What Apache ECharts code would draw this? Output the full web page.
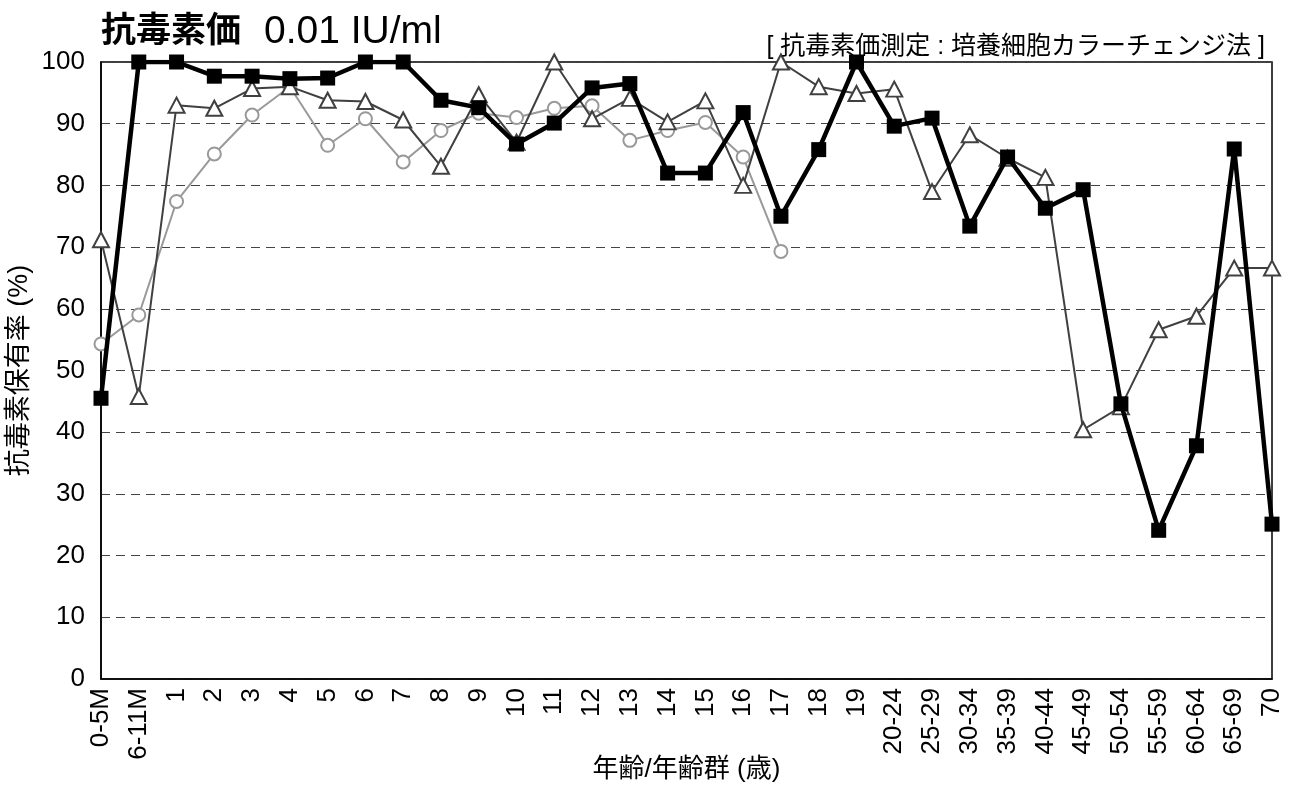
<!DOCTYPE html>
<html><head><meta charset="utf-8">
<script src="https://cdn.jsdelivr.net/npm/echarts@6/dist/echarts.min.js"></script>
<style>html,body{margin:0;padding:0;background:#fff}#c{width:1290px;height:785px}</style>
</head><body><div id="c"></div>
<script>
const categories = ['0-5M','6-11M','1','2','3','4','5','6','7','8','9','10','11','12','13','14','15','16','17','18','19','20-24','25-29','30-34','35-39','40-44','45-49','50-54','55-59','60-64','65-69','70'];
const squareSeries = [45.5,100,100,97.7,97.7,97.3,97.4,100,100,93.8,92.6,86.7,90.1,95.8,96.5,82.0,82.0,91.8,75.0,85.8,100,89.6,90.9,73.4,84.6,76.3,79.3,44.6,24.1,37.8,85.9,25.1];
const triangleSeries = [71.2,45.8,93.0,92.5,95.7,96.0,93.8,93.6,90.6,83.1,94.7,87.0,100,90.8,94.1,90.3,93.7,80.0,100,96.0,94.9,95.6,79.0,88.2,84.4,81.3,40.4,44.1,56.6,58.8,66.6,66.6];
const circleSeries = [54.3,59.0,77.4,85.1,91.4,96.0,86.5,90.8,83.8,88.9,91.7,91.0,92.5,92.9,87.3,88.9,90.2,84.6,69.3,null,null,null,null,null,null,null,null,null,null,null,null,null];
const yTicks = {min:0, max:100, interval:10};

const FONT = '"Liberation Sans", Arial, "Noto Sans CJK JP", sans-serif';
const chart = echarts.init(document.getElementById('c'));
chart.setOption({
  animation:false,
  backgroundColor:'#fff',
  textStyle:{fontFamily:FONT},
  title:[
    {text:'抗毒素価', left:96, top:10,
     textStyle:{fontSize:35,fontWeight:'bold',color:'#000',fontFamily:FONT}},
    {text:'0.01 IU/ml', left:259, top:8,
     textStyle:{fontSize:39,fontWeight:'normal',color:'#000',fontFamily:FONT}},
    {text:'[ 抗毒素価測定 : 培養細胞カラーチェンジ法 ]', right:20, top:30,
     textStyle:{fontSize:25,fontWeight:'normal',color:'#000',fontFamily:FONT}}
  ],
  grid:{left:101,right:18,top:62,bottom:106,show:true,borderColor:'#000',borderWidth:1.5,containLabel:false,outerBoundsMode:'none'},
  xAxis:{
    type:'category', data:categories, boundaryGap:false,
    axisLine:{lineStyle:{color:'#000',width:1.5}},
    axisTick:{show:false},
    axisLabel:{rotate:90,fontSize:26,color:'#000',margin:9,interval:0,fontFamily:FONT},
    name:'年齢/年齢群 (歳)', nameLocation:'middle', nameGap:78, nameMoveOverlap:false,
    nameTextStyle:{fontSize:26,color:'#000',fontFamily:FONT}
  },
  yAxis:{
    type:'value', min:yTicks.min, max:yTicks.max, interval:yTicks.interval,
    axisLine:{show:true,lineStyle:{color:'#000',width:1.5}},
    axisTick:{show:false},
    axisLabel:{fontSize:26,color:'#000',margin:16,fontFamily:FONT},
    splitLine:{show:true,lineStyle:{type:[9,6],color:'#444',width:1}},
    name:'抗毒素保有率 (%)', nameLocation:'middle', nameGap:68, nameMoveOverlap:false,
    nameTextStyle:{fontSize:27,color:'#000',fontFamily:FONT}
  },
  series:[
    {type:'line', data:circleSeries, symbol:'circle', symbolSize:13, connectNulls:false,
     lineStyle:{color:'#999',width:2}, itemStyle:{color:'#fff',borderColor:'#999',borderWidth:2}, z:2},
    {type:'line', data:triangleSeries, symbol:'triangle', symbolSize:[16,15],
     lineStyle:{color:'#404040',width:2}, itemStyle:{color:'#fff',borderColor:'#404040',borderWidth:2}, z:3},
    {type:'line', data:squareSeries, symbol:'rect', symbolSize:15,
     lineStyle:{color:'#000',width:4.5}, itemStyle:{color:'#000',borderColor:'#000',borderWidth:0}, z:4}
  ]
});
</script></body></html>
